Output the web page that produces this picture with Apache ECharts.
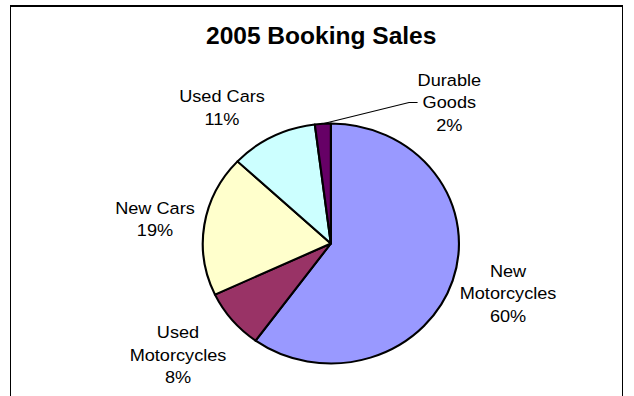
<!DOCTYPE html>
<html>
<head>
<meta charset="utf-8">
<script src="https://cdn.jsdelivr.net/npm/echarts@6/dist/echarts.min.js"></script>
<style>
  html, body { margin: 0; padding: 0; background: #fff; }
  #stage { position: relative; width: 634px; height: 396px; overflow: hidden; background: #fff; }
  #frame { position: absolute; left: 10px; top: 5px; width: 613px; height: 420px;
           border-top: 2px solid #000; border-left: 1px solid #000; border-right: 1px solid #000;
           box-sizing: border-box; }
  /* the plot is drawn slightly wider than tall, like the original sheet chart */
  #chart { position: absolute; left: 0; top: 0; width: 594px; height: 396px;
           transform: scaleX(1.0673); transform-origin: 0 0; }
</style>
</head>
<body>
<div id="stage"><div id="frame"></div><div id="chart"></div></div>
<script>
const chartTitle = '2005 Booking Sales';
const categories = ['New Motorcycles', 'Used Motorcycles', 'New Cars', 'Used Cars', 'Durable Goods'];
const labelText = ['New\nMotorcycles', 'Used\nMotorcycles', 'New Cars', 'Used Cars', 'Durable\nGoods'];
const shares = [60, 8, 19, 11, 2];

const sliceColors = ['#9999FF', '#993366', '#FFFFCC', '#CCFFFF', '#660066'];
// label centres (chart pixels) for each slice
const labelSpots = [[476, 293.5], [166.8, 355], [145.2, 219], [208, 107.5], [421, 102.5]];

const font = '"Liberation Sans", Arial, sans-serif';

const chart = echarts.init(document.getElementById('chart'), null, { renderer: 'svg' });
chart.setOption({
  backgroundColor: 'transparent',
  animation: false,
  title: {
    text: chartTitle,
    left: 193,
    top: 24.5,
    padding: 0,
    textStyle: { fontFamily: font, fontSize: 23, fontWeight: 'bold', color: '#000' }
  },
  series: [{
    type: 'pie',
    center: [310, 243.5],
    radius: 120,
    startAngle: 90,
    clockwise: true,
    avoidLabelOverlap: false,
    emphasis: { disabled: true },
    itemStyle: { borderColor: '#000', borderWidth: 2 },
    label: {
      show: true,
      position: 'outside',
      formatter: p => labelText[p.dataIndex] + '\n' + p.value + '%',
      fontFamily: font,
      fontSize: 17,
      lineHeight: 22.5,
      color: '#000',
      align: 'center'
    },
    labelLine: { show: false },
    labelLayout: p => {
      const s = labelSpots[p.dataIndex];
      return { x: s[0], y: s[1], align: 'center', verticalAlign: 'middle' };
    },
    data: categories.map((name, i) => ({
      name: name,
      value: shares[i],
      itemStyle: { color: sliceColors[i] },
      labelLine: name === 'Durable Goods'
        ? { show: true, length: 10, length2: 8, lineStyle: { color: '#000', width: 1 } }
        : { show: false }
    }))
  }]
});
</script>
</body>
</html>
